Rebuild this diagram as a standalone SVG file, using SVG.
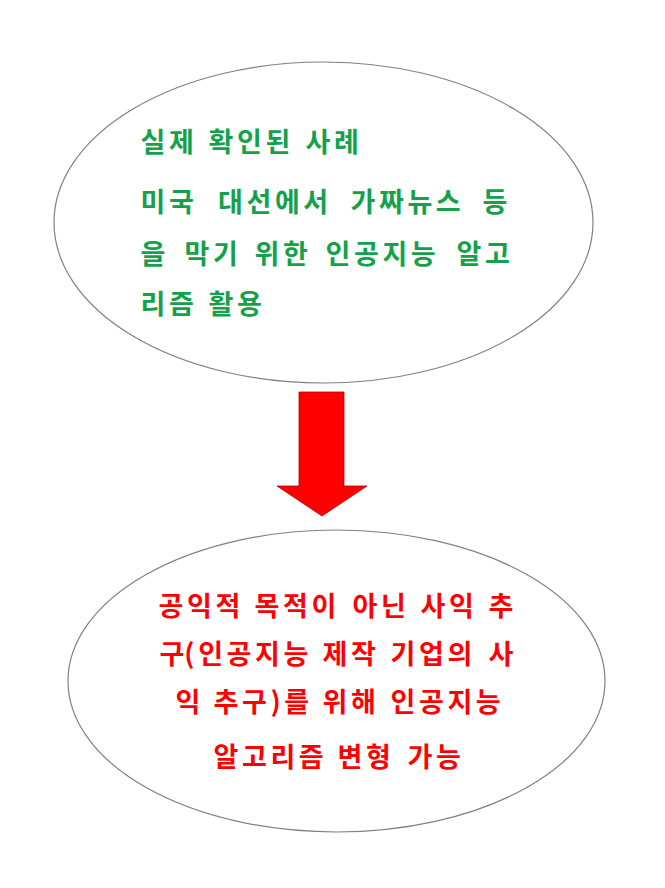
<svg xmlns="http://www.w3.org/2000/svg" width="665" height="888" viewBox="0 0 665 888">
  <style>
    .shape { fill: #ffffff; stroke: #808080; stroke-width: 1.2; }
    .t { font-family: "Noto Sans CJK KR", "Noto Sans", sans-serif; font-size: 27px; font-weight: bold; letter-spacing: 3.6px; }
    .tight { letter-spacing: 0; }
    .green { fill: #14A14A; }
    .red { fill: #FF0000; }
    .arrow { fill: #FF0000; stroke: #B00000; stroke-width: 0.8; }
  </style>
  <rect width="665" height="888" fill="#ffffff"/>
  <g id="node-top">
    <ellipse class="shape" cx="323.5" cy="222.5" rx="269.5" ry="160.5"/>
    <text class="t green" y="152"><tspan x="140.5">실제</tspan><tspan x="208.5">확인된</tspan><tspan x="305.5">사례</tspan></text>
    <text class="t green" y="212"><tspan x="140.5">미국</tspan><tspan x="218">대선에서</tspan><tspan x="350.5">가짜뉴스</tspan><tspan x="482.5">등</tspan></text>
    <text class="t green" y="264"><tspan x="140.5">을</tspan><tspan x="184.5">막기</tspan><tspan x="254.5">위한</tspan><tspan x="325.5">인공지능</tspan><tspan x="456.5">알고</tspan></text>
    <text class="t green" y="314"><tspan x="140.5">리즘</tspan><tspan x="208.5">활용</tspan></text>
  </g>
  <g id="node-bottom">
    <ellipse class="shape" cx="336.5" cy="681" rx="268.5" ry="151"/>
    <text class="t red" y="616"><tspan x="158.5">공익적</tspan><tspan x="254.5">목적이</tspan><tspan x="352.5">아닌</tspan><tspan x="420.5">사익</tspan><tspan x="488.5">추</tspan></text>
    <text class="t red" y="664"><tspan x="159.5"><tspan class="tight">구</tspan>(인공지능</tspan><tspan x="322.5">제작</tspan><tspan x="390.5">기업의</tspan><tspan x="488.5">사</tspan></text>
    <text class="t red" y="712"><tspan x="175.5">익</tspan><tspan x="213.5">추구)를</tspan><tspan x="322.5">위해</tspan><tspan x="390.5">인공지능</tspan></text>
    <text class="t red" y="767"><tspan x="213.5">알고리즘</tspan><tspan x="337.5">변형</tspan><tspan x="407.5">가능</tspan></text>
  </g>
  <g id="connectors">
    <polygon class="arrow" points="299,392 344,392 344,486 367,486 322,516 277,486 299,486"/>
  </g>
</svg>
